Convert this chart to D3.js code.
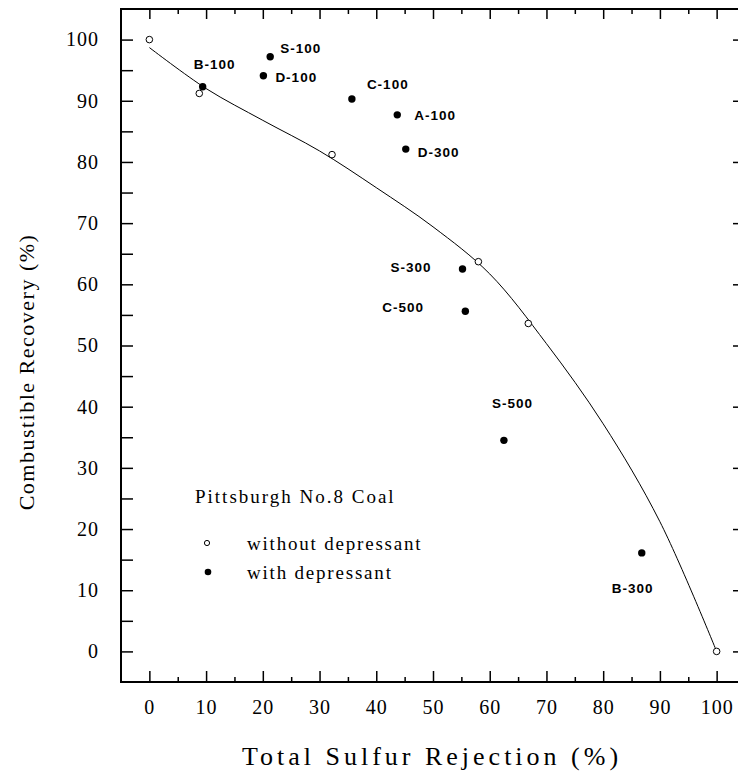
<!DOCTYPE html>
<html>
<head>
<meta charset="utf-8">
<script src="https://cdn.jsdelivr.net/npm/d3@7"></script>
<style>
  body { margin: 0; background: #fff; }
  .serif { font-family: 'Liberation Serif', 'Times New Roman', serif; fill: #000; }
  .lbl { font-family: 'Liberation Sans', Arial, sans-serif; font-weight: bold; font-size: 13.5px; letter-spacing: 1px; fill: #000; }
  .tick line { stroke: #000; stroke-width: 1.5; }
  .tick text { font-family: 'Liberation Serif', 'Times New Roman', serif; font-size: 20px; letter-spacing: 1px; fill: #000; }
</style>
</head>
<body>
<div id="chart"></div>
<script>
// open circles: without depressant
const openX = [0, 8.8, 32.2, 58.0, 66.8, 100];
const openY = [100, 91.2, 81.2, 63.7, 53.6, 0];

// filled circles: with depressant
const depNames = ['B-100', 'S-100', 'D-100', 'C-100', 'A-100', 'D-300', 'S-300', 'C-500', 'S-500', 'B-300'];
const depX = [9.4, 21.3, 20.1, 35.7, 43.7, 45.2, 55.2, 55.7, 62.5, 86.8];
const depY = [92.3, 97.2, 94.1, 90.3, 87.7, 82.1, 62.5, 55.6, 34.5, 16.1];

// fitted curve
const fitX = [0, 10, 20, 30, 40, 50, 60, 70, 80, 90, 100];
const fitY = [98.7, 92.0, 86.8, 81.8, 75.8, 69.4, 61.7, 50.3, 37.2, 21.2, 0];

const xTicks = d3.range(0, 101, 10);
const yTicks = d3.range(0, 101, 10);

// label placement relative to each dot (px)
const labelOffset = {
  'B-100': [-9, -23], 'S-100': [10, -9], 'D-100': [12, 1], 'C-100': [15, -15],
  'A-100': [17, 0], 'D-300': [12, 3], 'S-300': [-72, -2], 'C-500': [-83, -4],
  'S-500': [-12, -37], 'B-300': [-30, 35]
};

const W = 738, H = 774;
const svg = d3.select('#chart').append('svg').attr('width', W).attr('height', H);

const x = d3.scaleLinear().domain([-5, 105]).range([121, 745]);
const y = d3.scaleLinear().domain([-5, 105]).range([682, 9]);

// bottom axis: major with labels, minor without
svg.append('g').attr('transform', 'translate(0,682)')
  .call(d3.axisBottom(x).tickValues(xTicks).tickSize(-11).tickPadding(18))
  .call(g => g.select('.domain').remove());
svg.append('g').attr('transform', 'translate(0,682)')
  .call(d3.axisBottom(x).tickValues(d3.range(5, 100, 10)).tickSize(-5).tickFormat(''))
  .call(g => g.select('.domain').remove());

// top axis ticks
svg.append('g').attr('transform', 'translate(0,9)')
  .call(d3.axisTop(x).tickValues(xTicks).tickSize(-10).tickFormat(''))
  .call(g => g.select('.domain').remove());
svg.append('g').attr('transform', 'translate(0,9)')
  .call(d3.axisTop(x).tickValues(d3.range(5, 100, 10)).tickSize(-5).tickFormat(''))
  .call(g => g.select('.domain').remove());

// left axis, ticks every 5, labels every 10
svg.append('g').attr('transform', 'translate(121,0)')
  .call(d3.axisLeft(y).tickValues(d3.range(0, 101, 5)).tickSize(-12).tickPadding(22)
    .tickFormat(d => d % 10 === 0 ? d : ''))
  .call(g => g.select('.domain').remove());

// right axis ticks
svg.append('g').attr('transform', 'translate(745,0)')
  .call(d3.axisRight(y).tickValues(yTicks).tickSize(-12).tickFormat(''))
  .call(g => g.select('.domain').remove());

// frame
svg.append('rect')
  .attr('x', 121).attr('y', 9).attr('width', 624).attr('height', 673)
  .attr('fill', 'none').attr('stroke', '#000').attr('stroke-width', 2);

// fitted curve
const line = d3.line().x(d => x(d[0])).y(d => y(d[1])).curve(d3.curveCatmullRom);
svg.append('path')
  .datum(d3.zip(fitX, fitY))
  .attr('d', line)
  .attr('fill', 'none').attr('stroke', '#000').attr('stroke-width', 1);

// open points
svg.append('g').selectAll('circle')
  .data(d3.zip(openX, openY))
  .join('circle')
  .attr('cx', d => x(d[0])).attr('cy', d => y(d[1])).attr('r', 3.3)
  .attr('fill', '#fff').attr('stroke', '#000').attr('stroke-width', 1);

// filled points + labels
const dep = depNames.map((n, i) => ({ name: n, x: depX[i], y: depY[i] }));
svg.append('g').selectAll('circle')
  .data(dep)
  .join('circle')
  .attr('cx', d => x(d.x)).attr('cy', d => y(d.y)).attr('r', 3.7)
  .attr('fill', '#000');
svg.append('g').selectAll('text')
  .data(dep)
  .join('text')
  .attr('class', 'lbl')
  .attr('x', d => x(d.x) + labelOffset[d.name][0])
  .attr('y', d => y(d.y) + labelOffset[d.name][1])
  .attr('dy', '0.36em')
  .text(d => d.name);

// legend
svg.append('text').attr('class', 'serif')
  .attr('x', 195).attr('y', 503)
  .style('font-size', '19px').style('letter-spacing', '2px')
  .text('Pittsburgh No.8 Coal');
svg.append('circle').attr('cx', 207).attr('cy', 543).attr('r', 2.6)
  .attr('fill', '#fff').attr('stroke', '#000').attr('stroke-width', 1);
svg.append('text').attr('class', 'serif')
  .attr('x', 247).attr('y', 550)
  .style('font-size', '19px').style('letter-spacing', '1.8px')
  .text('without depressant');
svg.append('circle').attr('cx', 208).attr('cy', 572).attr('r', 3.3).attr('fill', '#000');
svg.append('text').attr('class', 'serif')
  .attr('x', 247).attr('y', 579)
  .style('font-size', '19px').style('letter-spacing', '1.8px')
  .text('with depressant');

// axis titles
svg.append('text').attr('class', 'serif')
  .attr('x', 432).attr('y', 765)
  .attr('text-anchor', 'middle')
  .style('font-size', '26px').style('letter-spacing', '4px')
  .text('Total Sulfur Rejection (%)');
svg.append('text').attr('class', 'serif')
  .attr('transform', 'translate(34,372) rotate(-90)')
  .attr('text-anchor', 'middle')
  .style('font-size', '22px').style('letter-spacing', '1.5px')
  .text('Combustible Recovery (%)');
</script>
</body>
</html>
